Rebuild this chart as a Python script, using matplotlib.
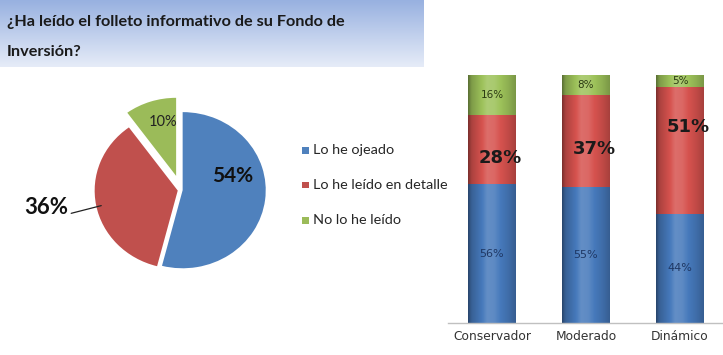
import numpy as np
import matplotlib
matplotlib.use("Agg")
import matplotlib.pyplot as plt
from matplotlib.colors import to_rgb
from matplotlib.patches import Rectangle

# ---------------- data ----------------
title_lines = ["¿Ha leído el folleto informativo de su Fondo de", "Inversión?"]
pie_labels = ["Lo he ojeado", "Lo he leído en detalle", "No lo he leído"]
pie_values = [54, 36, 10]
bar_categories = ["Conservador", "Moderado", "Dinámico"]
ojeado = [56, 55, 44]
detalle = [28, 37, 51]
no_leido = [16, 8, 5]

# ---------------- style ----------------
W, H = 723, 355
pie_colors = ["#4f81bd", "#c0504d", "#9bbb59"]
bar_colors = ["#4679bb", "#d6524e", "#9dc25a"]
red_label_frac = [0.38, 0.41, 0.69]   # vertical placement of the big labels inside red segments

fig = plt.figure(figsize=(W / 100, H / 100), dpi=100)
fig.patch.set_facecolor("white")


def px(l, t, w, h):
    return [l / W, 1 - (t + h) / H, w / W, h / H]


# ---------------- banner ----------------
bax = fig.add_axes(px(0, 0, 424, 67))
g = np.linspace(0, 1, 120)[:, None, None]
top = np.array(to_rgb("#98b1e0"))
bot = np.array(to_rgb("#e6ecf8"))
img = top[None, None, :] * (1 - g) + bot[None, None, :] * g
bax.imshow(img, aspect="auto", extent=(0, 1, 0, 1))
bax.axis("off")
for i, line in enumerate(title_lines):
    fig.text(7 / W, 1 - (22 + 30 * i) / H, line, fontsize=11.7, fontweight="bold",
             family=["Lato", "DejaVu Sans"], color="#1a1a1a", va="center", ha="left")

# ---------------- pie ----------------
pax = fig.add_axes(px(181 - 108, 190 - 101.5, 216, 203))
wedges, _ = pax.pie(pie_values, colors=pie_colors, startangle=90, counterclock=False,
                    explode=[0.02, 0.04, 0.19], radius=1)
pax.set_aspect("auto")
pax.set_xlim(-1.3, 1.3)
pax.set_ylim(-1.3, 1.3)

pax.text(0.62, 0.18, f"{pie_values[0]}%", fontsize=15, fontweight="bold",
         family="Lato", color="#111111", ha="center", va="center")
pax.annotate(f"{pie_values[1]}%", xy=(-0.96, -0.2), xytext=(-1.62, -0.22),
             fontsize=16, fontweight="bold", family="Lato", color="#111111",
             ha="center", va="center",
             arrowprops=dict(arrowstyle="-", color="#222222", lw=0.9,
                             relpos=(1.05, 0.2), shrinkA=0, shrinkB=0))
pax.text(-0.22, 0.87, f"{pie_values[2]}%", fontsize=10.5, family="Lato",
         color="#222222", ha="center", va="center")

# legend (drawn in pie axes so the bar panel covers any overflow)
for i, (lab, c) in enumerate(zip(pie_labels, pie_colors)):
    yc = 150 + 35 * i
    pax.add_patch(Rectangle((302 / W, 1 - (yc + 3.5) / H), 6.5 / W, 6.5 / H,
                            transform=fig.transFigure, facecolor=c, edgecolor="none",
                            clip_on=False))
    pax.text(313 / W, 1 - yc / H, lab, transform=fig.transFigure, fontsize=10.4,
             family="Lato", color="#262626", ha="left", va="center", clip_on=False)

# ---------------- stacked bars ----------------
ax = fig.add_axes(px(448, 75, 275, 248))
ax.set_facecolor("white")
x = np.arange(len(bar_categories))
bw = 0.51
bottoms2 = np.array(ojeado)
bottoms3 = np.array(ojeado) + np.array(detalle)
b1 = ax.bar(x, ojeado, width=bw, color=bar_colors[0], zorder=2)
b2 = ax.bar(x, detalle, width=bw, bottom=bottoms2, color=bar_colors[1], zorder=2)
b3 = ax.bar(x, no_leido, width=bw, bottom=bottoms3, color=bar_colors[2], zorder=2)

# cylinder-like horizontal shading
t = np.linspace(0, 1, 80)
shade = np.interp(t, [0, 0.07, 0.4, 0.55, 0.85, 1.0], [0.58, 0.8, 1.1, 1.08, 0.9, 0.78])
for bars, col in zip([b1, b2, b3], bar_colors):
    base = np.array(to_rgb(col))
    prof = np.empty((1, len(t), 3))
    for k, f in enumerate(shade):
        if f <= 1:
            prof[0, k] = base * f
        else:
            prof[0, k] = base + (1 - base) * (f - 1) * 1.6
    prof = np.clip(prof, 0, 1)
    for p in bars:
        x0, y0 = p.get_x(), p.get_y()
        im = ax.imshow(prof, extent=(x0, x0 + p.get_width(), y0, y0 + p.get_height()),
                       aspect="auto", zorder=2.1, interpolation="bilinear")
        im.set_clip_path(p)

ax.set_xlim(-44 / 94, 231 / 94)
ax.set_ylim(0, 100)

for i in range(len(x)):
    ax.text(x[i], ojeado[i] / 2, f"{ojeado[i]}%", fontsize=8, color="#1f3864",
            ha="center", va="center", zorder=5)
    ax.text(x[i] + 0.09, bottoms2[i] + detalle[i] * red_label_frac[i], f"{detalle[i]}%",
            fontsize=13, fontweight="bold", color="#1a1a1a", ha="center", va="center", zorder=5)
    ax.text(x[i], bottoms3[i] + no_leido[i] / 2, f"{no_leido[i]}%", fontsize=7.5,
            color="#2b3a12", ha="center", va="center", zorder=5)

ax.set_xticks(x)
ax.set_xticklabels(bar_categories, fontsize=8.8, color="#333333")
ax.tick_params(axis="x", length=0, pad=5)
ax.set_yticks([])
for s in ["top", "right", "left"]:
    ax.spines[s].set_visible(False)
ax.spines["bottom"].set_color("#c0c0c0")
ax.spines["bottom"].set_linewidth(1.0)

fig.savefig("out.png", dpi=100, facecolor="white")
